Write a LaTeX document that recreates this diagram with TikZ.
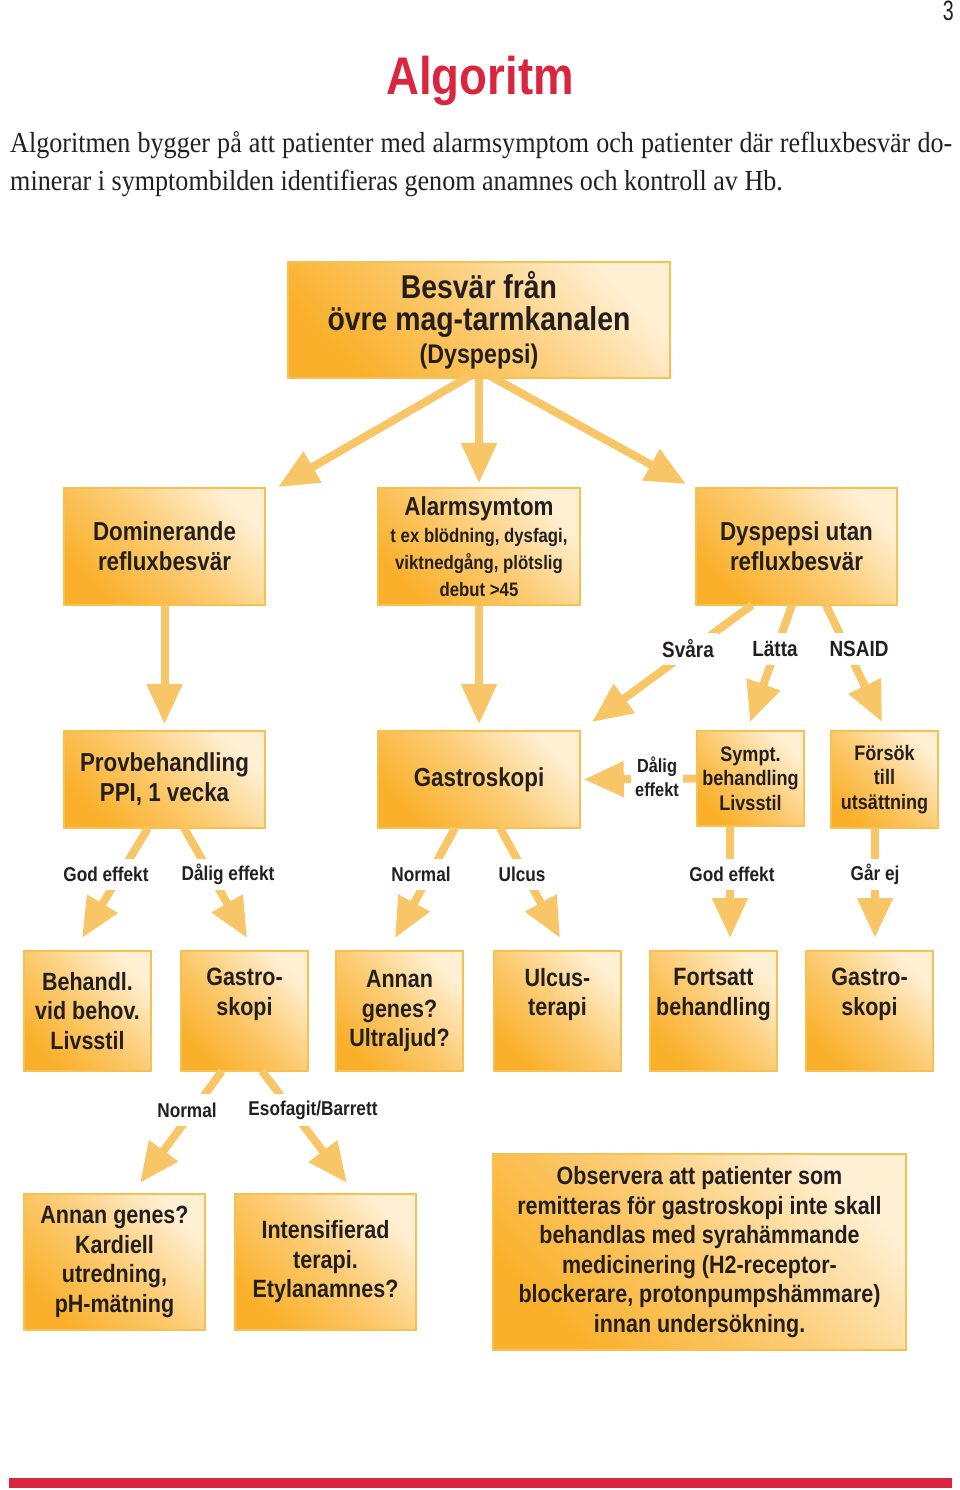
\documentclass[tikz,border=0pt]{standalone}
\usepackage{fontspec}
\usetikzlibrary{arrows.meta,calc}
\newfontfamily\cf{Liberation Sans}[FakeStretch=0.86]
\newfontfamily\bodyf{Liberation Serif}[FakeStretch=0.9]
\newfontfamily\numf{Liberation Sans}[FakeStretch=0.7]
\newcommand\alsm{\fontsize{19.5}{24}\selectfont}
\definecolor{ink}{HTML}{231F20}
\definecolor{boxline}{HTML}{F6C053}
\definecolor{boxdark}{HTML}{FAB02A}
\definecolor{boxmid}{HTML}{FCCB72}
\definecolor{boxlight}{HTML}{FFF0D4}
\definecolor{arrowc}{HTML}{F8C666}
\definecolor{titlered}{HTML}{D9263E}
\begin{document}
\begin{tikzpicture}[x=1pt,y=-1pt,
 box/.style={draw=boxline, line width=1.6pt, top color=boxlight, bottom color=boxdark, middle color=boxmid, shading angle=-45, align=center, text=ink, inner sep=0pt},
 conn/.style={draw=arrowc, line width=8pt, -{Triangle[width=34pt,length=40pt]}},
 lbl/.style={fill=white, text=ink, inner xsep=4pt, inner ysep=0pt, minimum height=31pt, align=center, font=\cf\bfseries\fontsize{20}{24}\selectfont},
 bigf/.style={font=\cf\bfseries\fontsize{26}{30}\selectfont},
 midf/.style={font=\cf\bfseries\fontsize{25}{29.5}\selectfont},
 smf/.style={font=\cf\bfseries\fontsize{21}{24.5}\selectfont},
]
\useasboundingbox (0,0) rectangle (960,1490);

% header
\node[anchor=base east, inner sep=0pt, text=ink, font=\numf\fontsize{28}{28}\selectfont] (pg) at (954,21) {3};
\node[anchor=base, inner sep=0pt, text=titlered, font=\cf\bfseries\fontsize{53}{53}\selectfont] (title) at (480,95) {Algoritm};
\node[anchor=base west, inner sep=0pt, text=ink, font=\bodyf\fontsize{29}{34}\selectfont] (par1) at (10,153)
  {\makebox[942pt][s]{Algoritmen bygger på att patienter med alarmsymptom och patienter där refluxbesvär do-}};
\node[anchor=base west, inner sep=0pt, text=ink, font=\bodyf\fontsize{29}{34}\selectfont] (par2) at (10,190)
  {minerar i symptombilden identifieras genom anamnes och kontroll av Hb.};

% boxes
\node[box, minimum width=382pt, minimum height=116pt, font=\cf\bfseries\fontsize{33}{32.5}\selectfont] (T) at (479,320)
  {Besvär från\\övre mag-tarmkanalen\\\fontsize{27}{31}\selectfont(Dyspepsi)};

\node[box, bigf, minimum width=201pt, minimum height=117pt] (A) at (164.5,546.5) {Dominerande\\refluxbesvär};
\node[box, minimum width=202pt, minimum height=117pt, font=\cf\bfseries\fontsize{26}{27}\selectfont] (B) at (479,546.5)
  {Alarmsymtom\\\alsm t ex blödning, dysfagi,\\\alsm viktnedgång, plötslig\\\alsm debut >45};
\node[box, bigf, minimum width=201pt, minimum height=117pt] (C) at (796.5,546.5) {Dyspepsi utan\\refluxbesvär};

\node[box, bigf, minimum width=201pt, minimum height=97pt] (P) at (164.5,779.5) {Provbehandling\\PPI, 1 vecka};
\node[box, bigf, minimum width=202pt, minimum height=97pt] (G) at (479,779.5) {Gastroskopi};
\node[box, smf, minimum width=107pt, minimum height=95pt] (S) at (750.5,778.5) {Sympt.\\behandling\\Livsstil};
\node[box, smf, minimum width=107pt, minimum height=97pt] (F) at (884.5,779.5) {Försök\\till\\utsättning};

\node[box, midf, minimum width=127pt, minimum height=120pt] (R1) at (87.5,1011) {Behandl.\\vid behov.\\Livsstil};
\node[box, midf, minimum width=127pt, minimum height=120pt] (R2) at (244.5,1011) {Gastro-\\skopi\\\strut};
\node[box, midf, minimum width=127pt, minimum height=120pt] (R3) at (399.5,1011) {Annan\\genes?\\Ultraljud?};
\node[box, midf, minimum width=127pt, minimum height=120pt] (R4) at (557.5,1011) {Ulcus-\\terapi\\\strut};
\node[box, midf, minimum width=127pt, minimum height=120pt] (R5) at (713.5,1011) {Fortsatt\\behandling\\\strut};
\node[box, midf, minimum width=127pt, minimum height=120pt] (R6) at (869.5,1011) {Gastro-\\skopi\\\strut};

\node[box, midf, minimum width=181pt, minimum height=136pt] (K) at (114.5,1262) {Annan genes?\\Kardiell\\utredning,\\pH-mätning};
\node[box, midf, minimum width=181pt, minimum height=136pt] (I) at (325.5,1262) {Intensifierad\\terapi.\\Etylanamnes?};
\node[box, midf, minimum width=413pt, minimum height=196pt] (O) at (699.5,1252)
  {Observera att patienter som\\remitteras för gastroskopi inte skall\\behandlas med syrahämmande\\medicinering (H2-receptor-\\blockerare, protonpumpshämmare)\\innan undersökning.};

% connector ends
\coordinate (a1) at (470,376); \coordinate (a1t) at (278,487);
\coordinate (a3) at (490,376); \coordinate (a3t) at (686,484);
\coordinate (c1) at (752,605); \coordinate (c1t) at (592,722);
\coordinate (c2) at (792,605); \coordinate (c2t) at (750,722);
\coordinate (c3) at (826,605); \coordinate (c3t) at (882,722);
\coordinate (p1) at (148,828); \coordinate (p1t) at (82,938);
\coordinate (p2) at (184,828); \coordinate (p2t) at (247,938);
\coordinate (g1) at (455,828); \coordinate (g1t) at (395,938);
\coordinate (g2) at (500,828); \coordinate (g2t) at (560,938);
\coordinate (s1) at (730,826); \coordinate (s1t) at (730,938);
\coordinate (f1) at (875,828); \coordinate (f1t) at (875,938);
\coordinate (r1) at (222,1071); \coordinate (r1t) at (140,1183);
\coordinate (r2) at (262,1071); \coordinate (r2t) at (347,1183);

% connectors
\draw[conn] (a1) -- (a1t);
\draw[conn, shorten >=4pt] (T.south) -- (B.north);
\draw[conn] (a3) -- (a3t);
\draw[conn, shorten >=6pt] (A.south) -- (P.north);
\draw[conn, shorten >=6pt] (B.south) -- (G.north);
\draw[conn] (c1) -- (c1t);
\draw[conn] (c2) -- (c2t);
\draw[conn] (c3) -- (c3t);
\draw[conn, shorten >=3pt] (S.west) -- (G.east);
\draw[conn] (p1) -- (p1t);
\draw[conn] (p2) -- (p2t);
\draw[conn] (g1) -- (g1t);
\draw[conn] (g2) -- (g2t);
\draw[conn] (s1) -- (s1t);
\draw[conn] (f1) -- (f1t);
\draw[conn] (r1) -- (r1t);
\draw[conn] (r2) -- (r2t);

% labels
\node[lbl, minimum height=32pt, font=\cf\bfseries\fontsize{22}{24}\selectfont] (lsv) at (688,649) {Svåra};
\node[lbl, minimum height=32pt, font=\cf\bfseries\fontsize{22}{24}\selectfont] (lla) at (775,649) {Lätta};
\node[lbl, minimum height=32pt, font=\cf\bfseries\fontsize{22}{24}\selectfont] (lns) at (859,649) {NSAID};
\node[lbl, font=\cf\bfseries\fontsize{19}{24}\selectfont] (ldal) at (657,777) {Dålig\\effekt};
\node[lbl] (lgod1) at (106,874) {God effekt};
\node[lbl] (ldal2) at (228,874) {Dålig effekt};
\node[lbl] (lnor1) at (421,874) {Normal};
\node[lbl] (lulc) at (522,874) {Ulcus};
\node[lbl] (lgod2) at (732,874) {God effekt};
\node[lbl] (lgar) at (875,874) {Går ej};
\node[lbl, minimum height=32pt] (lnor2) at (187,1110) {Normal};
\node[lbl, minimum height=32pt] (lesb) at (313,1110) {Esofagit/Barrett};

% bottom rule
\fill[titlered] (9,1478) rectangle (952,1488);
\end{tikzpicture}
\end{document}
